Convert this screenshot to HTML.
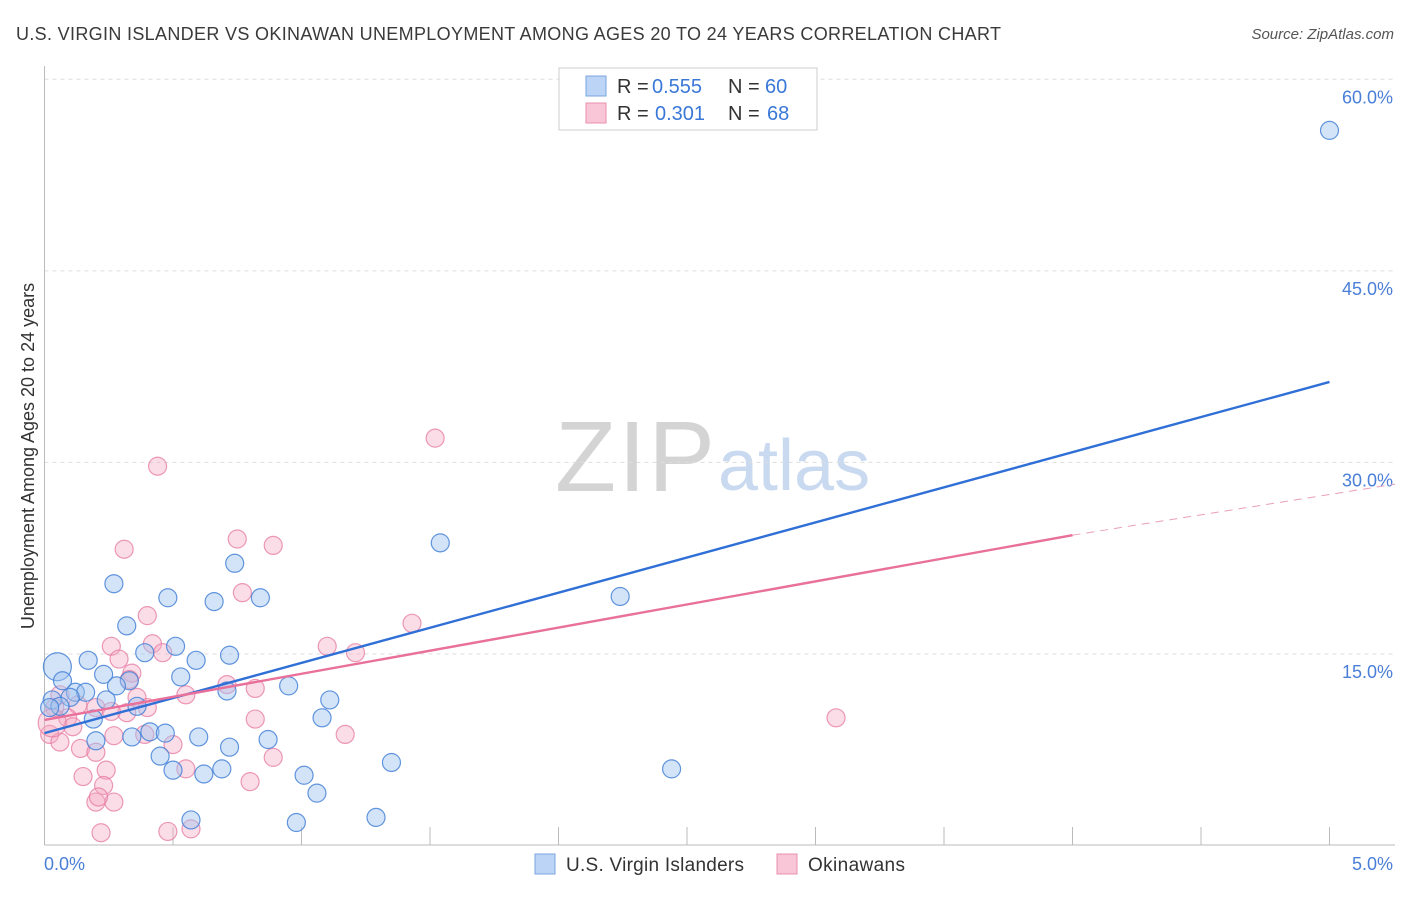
<!DOCTYPE html>
<html><head><meta charset="utf-8"><style>
body{margin:0;background:#fff;font-family:"Liberation Sans",sans-serif;}
svg text{font-family:"Liberation Sans",sans-serif;}
</style></head><body>
<svg width="1406" height="892" xmlns="http://www.w3.org/2000/svg">
<text x="16" y="40" font-size="18" fill="#3a3a3a" textLength="985">U.S. VIRGIN ISLANDER VS OKINAWAN UNEMPLOYMENT AMONG AGES 20 TO 24 YEARS CORRELATION CHART</text>
<text x="1394" y="39" font-size="15" font-style="italic" fill="#555" text-anchor="end">Source: ZipAtlas.com</text>
<text x="555" y="491" font-size="100" font-family="Liberation Serif" fill="#d4d4d4" textLength="160">ZIP</text>
<text x="718" y="490" font-size="72" fill="#c9d9f0">atlas</text>
<g id="grid"></g>
<line x1="44.5" y1="66" x2="44.5" y2="845" stroke="#bbb"/>
<line x1="44.5" y1="845" x2="1395" y2="845" stroke="#bbb"/>
<g id="xticks"></g>
<text x="44" y="870" font-size="18" fill="#4a7fd8">0.0%</text>
<text x="1393" y="870" font-size="18" fill="#4a7fd8" text-anchor="end">5.0%</text>
<text transform="translate(34,456) rotate(-90)" font-size="18" fill="#333" text-anchor="middle">Unemployment Among Ages 20 to 24 years</text>
<g id="pts"></g>
<g id="lines"></g>
<g>
<rect x="559" y="68" width="258" height="62" fill="#fff" stroke="#ccc"/>
<rect x="586" y="76" width="20" height="20" fill="#bcd4f6" stroke="#7aa4e0"/>
<rect x="586" y="103" width="20" height="20" fill="#f8c6d6" stroke="#e890ad"/>
<text x="617" y="93" font-size="20" fill="#333">R =</text>
<text x="652" y="93" font-size="20" fill="#3a78d8">0.555</text>
<text x="728" y="93" font-size="20" fill="#333">N =</text>
<text x="765" y="93" font-size="20" fill="#3a78d8">60</text>
<text x="617" y="120" font-size="20" fill="#333">R =</text>
<text x="655" y="120" font-size="20" fill="#3a78d8">0.301</text>
<text x="728" y="120" font-size="20" fill="#333">N =</text>
<text x="767" y="120" font-size="20" fill="#3a78d8">68</text>
</g>
<g>
<rect x="535" y="854" width="20" height="20" fill="#bcd4f6" stroke="#7aa4e0"/>
<text x="566" y="871" font-size="19" fill="#333" textLength="178">U.S. Virgin Islanders</text>
<rect x="777" y="854" width="20" height="20" fill="#f8c6d6" stroke="#e890ad"/>
<text x="808" y="871" font-size="19" fill="#333" textLength="97">Okinawans</text>
</g>
</svg>
<script>
const yTicks=[15,30,45,60];
const xTickVals=[0.5,1,1.5,2,2.5,3,3.5,4,4.5,5];
const blueX=[5.0,1.54,2.24,2.44,0.27,0.48,0.66,0.84,0.74,0.32,0.39,0.51,0.72,0.59,0.17,0.05,0.53,0.23,0.33,0.28,0.07,0.95,0.71,0.12,0.16,0.03,0.10,0.24,0.36,1.11,1.08,0.19,0.41,0.47,0.60,0.34,0.20,0.87,0.72,0.45,0.50,0.62,0.69,1.01,1.35,1.06,0.57,0.98,1.29,0.06,0.02];
const blueY=[56.0,23.7,19.5,6.0,20.5,19.4,19.1,19.4,22.1,17.2,15.1,15.6,14.9,14.5,14.5,14.0,13.2,13.4,12.9,12.5,12.9,12.5,12.1,12.0,12.0,11.4,11.6,11.4,10.9,11.4,10.0,9.9,8.9,8.8,8.5,8.5,8.2,8.3,7.7,7.0,5.9,5.6,6.0,5.5,6.5,4.1,2.0,1.8,2.2,10.9,10.8];
const blueBig=[15];
const pinkX=[1.52,0.44,0.31,0.75,0.89,0.77,0.40,1.43,0.26,0.42,0.46,1.10,1.21,0.29,0.34,0.33,0.55,0.82,0.71,0.36,3.08,0.82,0.20,0.32,0.26,0.13,0.04,0.09,0.02,0.06,0.11,0.27,0.14,0.20,0.50,1.17,0.89,0.55,0.24,0.15,0.23,0.80,0.27,0.20,0.21,0.48,0.22,0.57,0.39,0.06,0.03,0.40];
const pinkY=[31.9,29.7,23.2,24.0,23.5,19.8,18.0,17.4,15.6,15.8,15.1,15.6,15.1,14.6,13.5,13.0,11.8,12.3,12.6,11.6,10.0,9.9,10.8,10.4,10.5,11.0,10.8,10.0,8.7,8.1,9.3,8.6,7.6,7.3,7.9,8.7,6.9,6.0,5.9,5.4,4.7,5.0,3.4,3.4,3.8,1.1,1.0,1.3,8.7,11.8,9.6,10.8];
const pinkBig=[50];
const blueLine=[[0,8.8],[5,36.3]];
const pinkLine=[[0,9.83],[4,24.3]];
const pinkDash=[[4,24.3],[5.255,28.3]];
const NS='http://www.w3.org/2000/svg';
const sx=v=>44.5+v*257, sy=v=>845.5-v*12.77;
function mk(t,a,p){const e=document.createElementNS(NS,t);for(const k in a)e.setAttribute(k,a[k]);p.appendChild(e);return e;}
const grid=document.getElementById('grid');
yTicks.forEach(t=>{
 const l=mk('line',{x1:44.5,x2:1395,y1:sy(t),y2:sy(t),stroke:'#ddd','stroke-dasharray':'4,4'},grid);
 
 
 const tx=mk('text',{x:1393,y:sy(t)+24,'font-size':18,fill:'#4a7fd8','text-anchor':'end'},grid);
 tx.textContent=t.toFixed(1)+'%';
 
 
});
const xt=document.getElementById('xticks');
xTickVals.forEach(v=>{
 const l=mk('line',{x1:sx(v),x2:sx(v),y1:827,y2:845,stroke:'#bbb'},xt);
 
 
});
const pts=document.getElementById('pts');
function draw(X,Y,big,fill,stroke,name){
 X.forEach((x,i)=>{
  const c=mk('circle',{cx:sx(x),cy:sy(Y[i]),r:big.includes(i)?14:9,fill:fill,stroke:stroke,'stroke-width':1.2},pts);
  
  
 });
}
draw(pinkX,pinkY,pinkBig,'rgba(246,170,196,0.4)','rgba(230,120,160,0.75)','okinawan-point');
draw(blueX,blueY,blueBig,'rgba(160,195,240,0.45)','rgba(70,130,215,0.85)','virgin-islander-point');
const lg=document.getElementById('lines');
function ln(p,col,dash,name){
 const l=mk('line',{x1:sx(p[0][0]),y1:sy(p[0][1]),x2:sx(p[1][0]),y2:sy(p[1][1]),stroke:col,'stroke-width':dash?1:2.4},lg);
 if(dash)l.setAttribute('stroke-dasharray','8,6');
 
 
}
ln(blueLine,'#2f6fd6',false,'blue-trend-line');
ln(pinkLine,'#e8709a',false,'pink-trend-line');
ln(pinkDash,'#e8a0b8',true,'pink-trend-extension');
</script>
</body></html>
